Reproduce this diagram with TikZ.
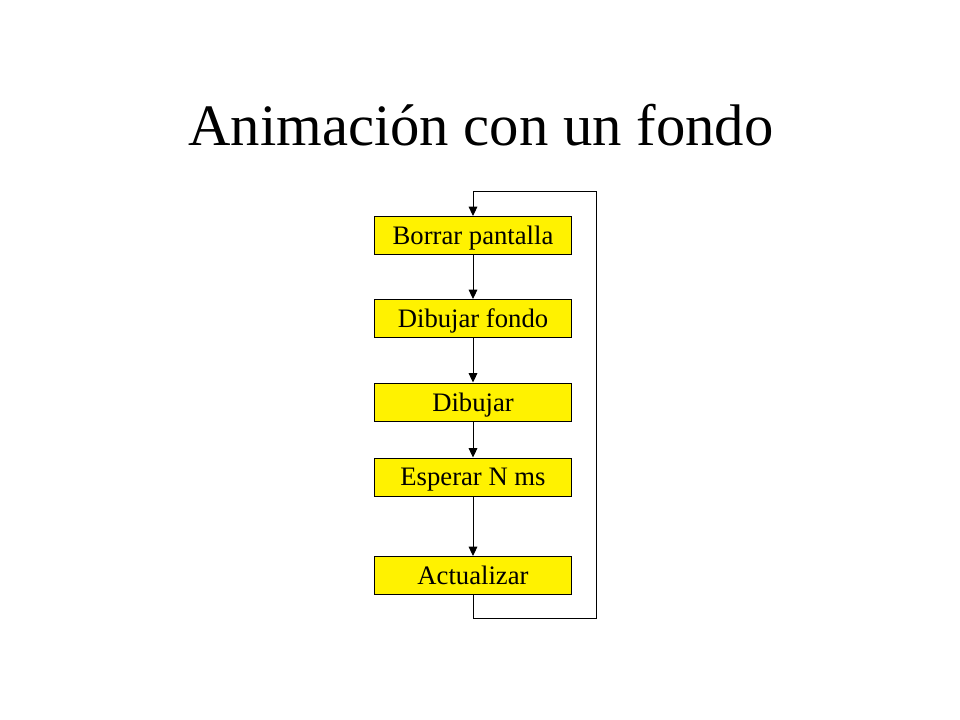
\documentclass[tikz,border=0pt]{standalone}
\usepackage{fontspec}
\setmainfont{Liberation Serif}
\usepackage{tikz}
\usetikzlibrary{positioning,arrows.meta}

\begin{document}
\begin{tikzpicture}[x=0.75pt, y=-0.75pt, line width=0.75pt, every node/.style={font=\fontsize{20}{24}\selectfont}]
    \useasboundingbox (0,0) rectangle (960,720);

    % Title
    \node[anchor=base, font=\fontsize{44}{52}\selectfont] (title) at (481,146) {Animación con un fondo};

    % Steps of the loop
    \foreach \n/\y/\t in {borrar/235.5/Borrar pantalla, fondo/318.5/Dibujar fondo, dibujar/402/Dibujar, esperar/477/Esperar N ms, actualizar/575.5/Actualizar} {
        \node[rectangle, draw, fill=yellow, minimum width=147.75pt, minimum height=28.5pt, inner sep=0pt, text depth=0pt] (\n) at (473,\y) {\t};
    }

    % Arrows between steps
    \draw[-{Triangle[length=7pt,width=6.5pt]}] (borrar) -- (fondo);
    \draw[-{Triangle[length=7pt,width=6.5pt]}] (fondo) -- (dibujar);
    \draw[-{Triangle[length=7pt,width=6.5pt]}] (dibujar) -- (esperar);
    \draw[-{Triangle[length=7pt,width=6.5pt]}] (esperar) -- (actualizar);

    % Back to the start
    \coordinate (loopbr) at (596,618);
    \coordinate (looptr) at (596,192);
    \draw[-{Triangle[length=7pt,width=6.5pt]}] (actualizar.south) |- (loopbr) -- (looptr) -| (borrar.north);
\end{tikzpicture}
\end{document}
